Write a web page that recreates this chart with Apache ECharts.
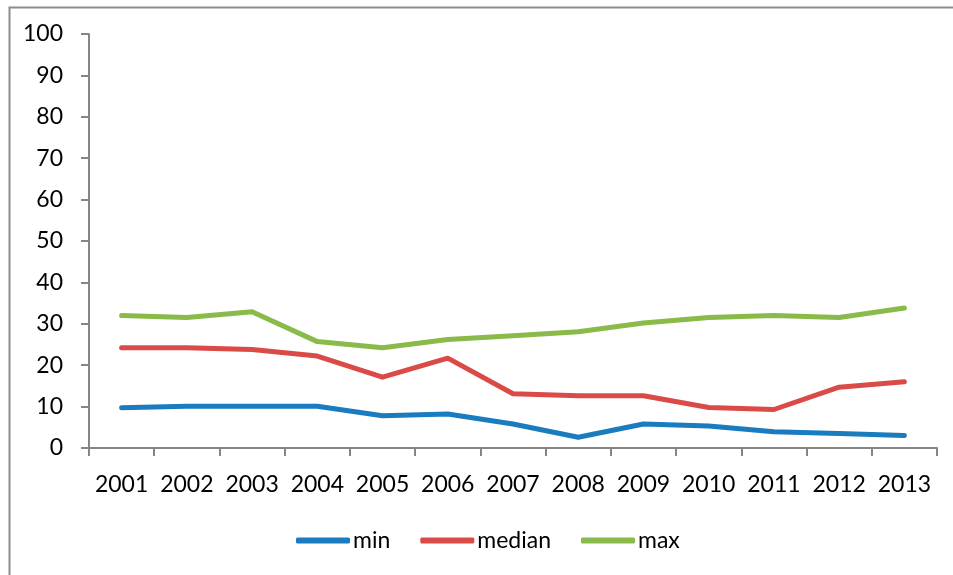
<!DOCTYPE html>
<html>
<head>
<meta charset="utf-8">
<script src="https://cdn.jsdelivr.net/npm/echarts@6/dist/echarts.min.js"></script>
<style>
html,body{margin:0;padding:0;background:#fff;}
#c{width:953px;height:575px;}
</style>
</head>
<body>
<div id="c"></div>
<script>
var years = ['2001','2002','2003','2004','2005','2006','2007','2008','2009','2010','2011','2012','2013'];
var minVals = [9.7, 10.1, 10.1, 10.1, 7.8, 8.2, 5.8, 2.6, 5.8, 5.3, 3.9, 3.5, 3.0];
var medianVals = [24.2, 24.2, 23.8, 22.2, 17.1, 21.7, 13.1, 12.6, 12.6, 9.8, 9.3, 14.7, 16.0];
var maxVals = [32.0, 31.5, 32.9, 25.7, 24.2, 26.2, 27.1, 28.1, 30.2, 31.5, 32.0, 31.5, 33.8];
var yTicks = {min: 0, max: 100, interval: 10};

var chart = echarts.init(document.getElementById('c'));
var font = 'Lato, "Open Sans", sans-serif';
function ser(name, data, color) {
  return {
    name: name, type: 'line', data: data, symbol: 'none', smooth: false,
    lineStyle: {color: color, width: 5, cap: 'round', join: 'round'},
    itemStyle: {color: color}
  };
}
chart.setOption({
  animation: false,
  backgroundColor: '#fff',
  graphic: [{
    type: 'rect', left: 7, top: 5, silent: true,
    shape: {x: 0, y: 0, width: 1000, height: 1000},
    style: {fill: 'none', stroke: '#8c8c8c', lineWidth: 2}
  }],
  grid: {left: 89, right: 16, top: 34, bottom: 127, containLabel: false},
  legend: {
    top: 524, left: 291,
    itemWidth: 54, itemHeight: 6, itemGap: 30,
    icon: 'roundRect',
    textStyle: {fontFamily: font, fontSize: 23, color: '#000', padding: [0,0,0,-2]},
    data: ['min', 'median', 'max']
  },
  xAxis: {
    type: 'category', data: years, boundaryGap: true,
    axisLine: {lineStyle: {color: '#868686', width: 2}},
    axisTick: {show: true, interval: 0, length: 8, lineStyle: {color: '#868686', width: 2}},
    axisLabel: {fontFamily: font, fontSize: 23, color: '#000', margin: 25, interval: 0}
  },
  yAxis: {
    type: 'value', min: yTicks.min, max: yTicks.max, interval: yTicks.interval,
    splitLine: {show: false},
    axisLine: {show: true, lineStyle: {color: '#868686', width: 2}},
    axisTick: {show: true, length: 8, lineStyle: {color: '#868686', width: 2}},
    axisLabel: {fontFamily: font, fontSize: 23, color: '#000', margin: 26}
  },
  series: [
    ser('min', minVals, '#1a7bbf'),
    ser('median', medianVals, '#da4b47'),
    ser('max', maxVals, '#89ba4a')
  ]
});
</script>
</body>
</html>
